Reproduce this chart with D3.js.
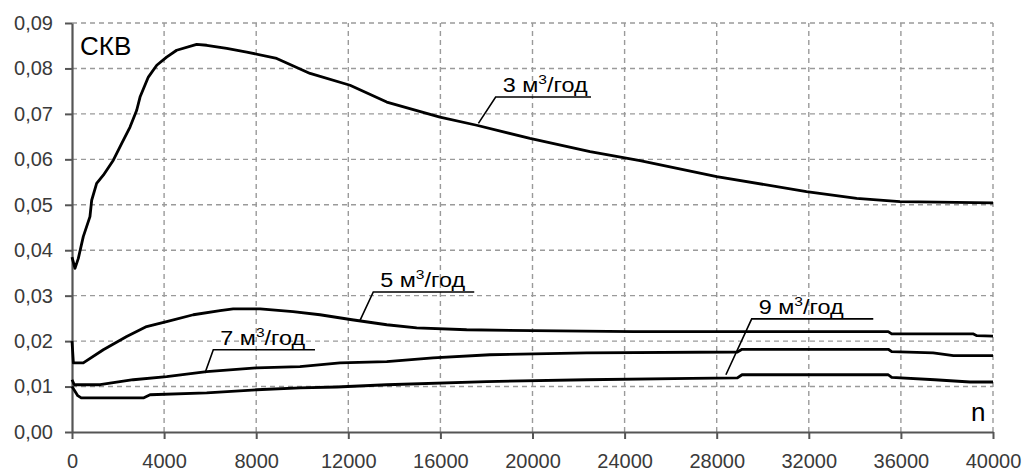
<!DOCTYPE html>
<html>
<head>
<meta charset="utf-8">
<script src="https://cdn.jsdelivr.net/npm/d3@7"></script>
<style>
  body { margin: 0; background: #fff; }
  text { font-family: Arial, "Liberation Sans", sans-serif; }
</style>
</head>
<body>
<script>
var w = 1028;  // svg width
var h = 476;   // svg height
var margin = {top: 23, right: 35, bottom: 44, left: 72};

// tick values
var xTicks = [0, 4000, 8000, 12000, 16000, 20000, 24000, 28000, 32000, 36000, 40000];
var yTicks = [0, 0.01, 0.02, 0.03, 0.04, 0.05, 0.06, 0.07, 0.08, 0.09];

// 3 m3/year
var n3 = [0, 130, 275, 490, 780, 855, 1070, 1360, 1795, 2160, 2520, 2810, 2955, 3315, 3680, 4110, 4545, 5415, 5850, 6720, 7590, 8890, 10340, 12075, 13670, 15980, 17575, 19890, 22500, 24670, 28000, 31900, 34080, 35960, 40000];
var v3 = [0.0385, 0.0360, 0.0382, 0.0430, 0.0474, 0.0510, 0.0547, 0.0565, 0.0598, 0.0635, 0.0671, 0.0708, 0.0737, 0.0781, 0.0807, 0.0825, 0.0840, 0.0853, 0.0851, 0.0844, 0.0836, 0.0822, 0.0789, 0.0763, 0.0726, 0.0693, 0.0675, 0.0646, 0.0617, 0.0597, 0.0562, 0.0529, 0.0514, 0.0507, 0.0504];

// 5 m3/year
var n5 = [0, 60, 490, 1360, 2375, 3240, 4110, 5270, 6430, 7000, 8170, 9600, 10770, 12160, 13670, 14970, 17140, 20020, 24370, 35450, 35600, 39130, 39300, 40000];
var v5 = [0.0200, 0.0152, 0.0152, 0.0181, 0.0210, 0.0232, 0.0243, 0.0258, 0.0267, 0.0271, 0.0271, 0.0265, 0.0258, 0.0247, 0.0236, 0.0229, 0.0225, 0.0223, 0.0221, 0.0221, 0.0216, 0.0216, 0.0212, 0.0211];

// 7 m3/year
var n7 = [0, 100, 1220, 2660, 4110, 5850, 8020, 9900, 11640, 13670, 15680, 18150, 22350, 28900, 29100, 35450, 35600, 37400, 38280, 40000];
var v7 = [0.0115, 0.0104, 0.0104, 0.0115, 0.0122, 0.0133, 0.0141, 0.0144, 0.0152, 0.0155, 0.0163, 0.0170, 0.0174, 0.0176, 0.0182, 0.0182, 0.0177, 0.0174, 0.0168, 0.0168];

// 9 m3/year
var n9 = [0, 250, 400, 3100, 3390, 5850, 8020, 9900, 11500, 13670, 18010, 22350, 26900, 28900, 29100, 35450, 35600, 37470, 39000, 40000];
var v9 = [0.0100, 0.0080, 0.0075, 0.0075, 0.0082, 0.0086, 0.0093, 0.0097, 0.0099, 0.0104, 0.0111, 0.0115, 0.0118, 0.0119, 0.0126, 0.0126, 0.0120, 0.0115, 0.0110, 0.0110];

// labels with leader lines: [curve point n, v], [underline start n, v], underline end n
var labelNames = ["3", "5", "7", "9"];
var labelCurve = [[17650, 0.0679], [12505, 0.0245], [5776, 0.0130], [28400, 0.0126]];
var labelStart = [[18400, 0.0737], [13085, 0.0308], [6137, 0.0181], [29520, 0.0249]];
var labelEnd = [22540, 17470, 10553, 34800];

var series = [
  {n: n3, v: v3},
  {n: n5, v: v5},
  {n: n7, v: v7},
  {n: n9, v: v9}
];

var xScale = d3.scaleLinear()
               .domain([0, 40000])
               .range([margin.left, w - margin.right]);

var yScale = d3.scaleLinear()
               .domain([0, 0.09])
               .range([h - margin.bottom, margin.top]);

var svg = d3.select("body")
            .append("svg")
            .attr("width", w)
            .attr("height", h);

// dashed grid
svg.append("g")
   .selectAll("line")
   .data(yTicks.slice(1))
   .enter()
   .append("line")
   .attr("x1", xScale(0))
   .attr("x2", xScale(40000))
   .attr("y1", function(d) { return yScale(d); })
   .attr("y2", function(d) { return yScale(d); })
   .attr("stroke", "#9a9a9a")
   .attr("stroke-width", 1.4)
   .attr("stroke-dasharray", "5,4");

svg.append("g")
   .selectAll("line")
   .data(xTicks.slice(1))
   .enter()
   .append("line")
   .attr("x1", function(d) { return xScale(d); })
   .attr("x2", function(d) { return xScale(d); })
   .attr("y1", yScale(0))
   .attr("y2", yScale(0.09))
   .attr("stroke", "#9a9a9a")
   .attr("stroke-width", 1.4)
   .attr("stroke-dasharray", "5,4");

// axes
var xAxis = d3.axisBottom(xScale)
              .tickValues(xTicks)
              .tickSize(7)
              .tickSizeOuter(0)
              .tickPadding(15)
              .tickFormat(function(d) { return d; });

var yAxis = d3.axisLeft(yScale)
              .tickValues(yTicks)
              .tickSize(7)
              .tickSizeOuter(0)
              .tickPadding(12)
              .tickFormat(function(d) { return d.toFixed(2).replace(".", ","); });

var gx = svg.append("g")
            .attr("transform", "translate(0," + yScale(0) + ")")
            .call(xAxis);

var gy = svg.append("g")
            .attr("transform", "translate(" + xScale(0) + ",0)")
            .call(yAxis);

[gx, gy].forEach(function(g) {
  g.select(".domain").attr("stroke", "#555").attr("stroke-width", 2.2);
  g.selectAll(".tick line").attr("stroke", "#555").attr("stroke-width", 2);
  g.selectAll(".tick text")
   .attr("fill", "#3a3a3a")
   .attr("font-size", "20px")
   .attr("font-family", "Arial, 'Liberation Sans', sans-serif");
});

// curves
var line = d3.line()
             .x(function(d) { return xScale(d[0]); })
             .y(function(d) { return yScale(d[1]); });

svg.append("g")
   .selectAll("path")
   .data(series)
   .enter()
   .append("path")
   .attr("d", function(s) {
       return line(s.n.map(function(n, i) { return [n, s.v[i]]; }));
   })
   .attr("fill", "none")
   .attr("stroke", "#000")
   .attr("stroke-width", 2.8)
   .attr("stroke-linejoin", "round");

// labels with leader lines
var labels = svg.append("g")
                .selectAll("g")
                .data(labelNames)
                .enter()
                .append("g");

labels.append("path")
      .attr("d", function(d, i) {
          return "M" + xScale(labelCurve[i][0]) + "," + yScale(labelCurve[i][1]) +
                 "L" + xScale(labelStart[i][0]) + "," + yScale(labelStart[i][1]) +
                 "H" + xScale(labelEnd[i]);
      })
      .attr("fill", "none")
      .attr("stroke", "#000")
      .attr("stroke-width", 1.6);

var lt = labels.append("text")
               .attr("transform", function(d, i) {
                   return "translate(" + (xScale(labelStart[i][0]) + 7) + "," + (yScale(labelStart[i][1]) - 5) + ") scale(1.2,1)";
               })
               .attr("font-size", "19.5px")
               .attr("fill", "#000");

lt.append("tspan").text(function(d) { return d + " м"; });
lt.append("tspan").attr("dy", -8).attr("font-size", "13px").text("3");
lt.append("tspan").attr("dy", 8).text("/год");

// axis titles
svg.append("text")
   .attr("x", 80)
   .attr("y", 55)
   .attr("font-size", "26px")
   .attr("fill", "#000")
   .text("СКВ");

svg.append("text")
   .attr("x", 971)
   .attr("y", 421)
   .attr("font-size", "26px")
   .attr("fill", "#000")
   .text("n");
</script>
</body>
</html>
